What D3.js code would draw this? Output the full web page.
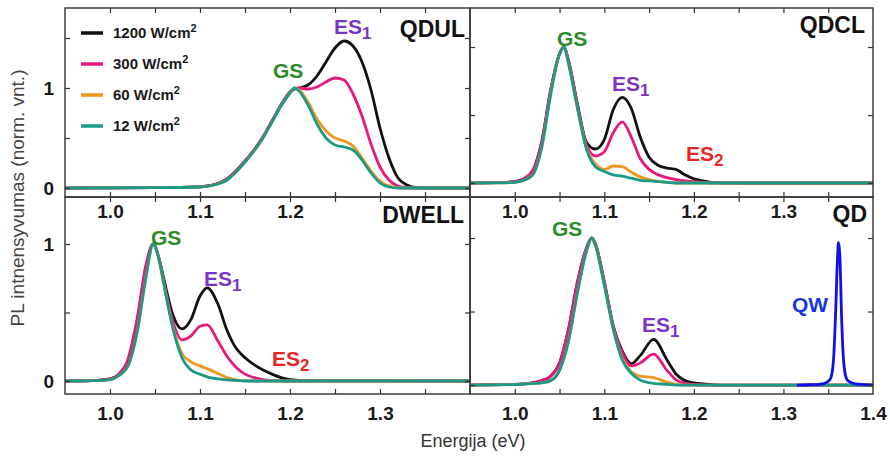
<!DOCTYPE html>
<html>
<head>
<meta charset="utf-8">
<script src="https://cdn.jsdelivr.net/npm/d3@7"></script>
<style>
  body { margin: 0; background: #fff; }
  svg text { font-family: "Liberation Sans", Arial, Helvetica, sans-serif; }
</style>
</head>
<body>
<svg id="chart" width="890" height="456"></svg>
<script>
// ---- Data: normalised PL spectra (energy in eV) ----
const seriesLabels = ["1200", "300", "60", "12"];   // excitation, W/cm²
const seriesColors = ["#111111", "#e8177d", "#f0961e", "#1b9a8a"];

// QDUL
const energyQDUL = [0.95, 1.05, 1.10, 1.12, 1.13, 1.14, 1.15, 1.16, 1.17, 1.18, 1.19, 1.20, 1.205, 1.21, 1.22, 1.23, 1.24, 1.25, 1.26, 1.27, 1.28, 1.29, 1.30, 1.31, 1.32, 1.33, 1.34, 1.36, 1.40];
const qdul1200 = [0, 0.004, 0.012, 0.045, 0.09, 0.17, 0.27, 0.38, 0.51, 0.67, 0.83, 0.96, 0.99, 1.0, 1.03, 1.12, 1.26, 1.4, 1.47, 1.42, 1.26, 0.98, 0.6, 0.3, 0.1, 0.03, 0.005, 0, 0];
const qdul300  = [0, 0.004, 0.012, 0.045, 0.09, 0.17, 0.27, 0.38, 0.51, 0.67, 0.83, 0.96, 0.99, 1.0, 0.99, 1.01, 1.06, 1.1, 1.08, 0.94, 0.72, 0.44, 0.21, 0.08, 0.02, 0.005, 0, 0, 0];
const qdul60   = [0, 0.003, 0.01, 0.04, 0.08, 0.16, 0.26, 0.37, 0.5, 0.66, 0.82, 0.95, 1.0, 0.98, 0.86, 0.69, 0.57, 0.5, 0.47, 0.42, 0.3, 0.17, 0.07, 0.02, 0.005, 0, 0, 0, 0];
const qdul12   = [0, 0.003, 0.01, 0.04, 0.08, 0.16, 0.26, 0.37, 0.5, 0.66, 0.82, 0.95, 1.0, 0.97, 0.83, 0.64, 0.5, 0.43, 0.41, 0.38, 0.28, 0.15, 0.05, 0.01, 0, 0, 0, 0, 0];

// QDCL
const energyQDCL = [0.95, 0.98, 1.00, 1.01, 1.02, 1.03, 1.04, 1.05, 1.055, 1.06, 1.07, 1.08, 1.09, 1.10, 1.11, 1.12, 1.13, 1.14, 1.15, 1.16, 1.17, 1.18, 1.19, 1.20, 1.21, 1.22, 1.25, 1.40];
const qdcl1200 = [0, 0.002, 0.01, 0.03, 0.09, 0.3, 0.68, 0.95, 1.0, 0.9, 0.58, 0.3, 0.25, 0.32, 0.54, 0.63, 0.55, 0.34, 0.19, 0.13, 0.11, 0.1, 0.06, 0.03, 0.015, 0.005, 0, 0];
const qdcl300  = [0, 0.002, 0.01, 0.03, 0.09, 0.3, 0.68, 0.95, 1.0, 0.9, 0.57, 0.28, 0.2, 0.23, 0.37, 0.45, 0.34, 0.18, 0.1, 0.06, 0.04, 0.025, 0.015, 0.01, 0.005, 0, 0, 0];
const qdcl60   = [0, 0.001, 0.005, 0.02, 0.06, 0.26, 0.65, 0.95, 1.0, 0.88, 0.55, 0.26, 0.14, 0.1, 0.125, 0.12, 0.08, 0.045, 0.025, 0.012, 0.005, 0, 0, 0, 0, 0, 0, 0];
const qdcl12   = [0, 0.001, 0.005, 0.02, 0.06, 0.26, 0.65, 0.95, 1.0, 0.88, 0.55, 0.25, 0.12, 0.085, 0.06, 0.05, 0.035, 0.02, 0.015, 0.01, 0.005, 0, 0, 0, 0, 0, 0, 0];

// DWELL
const energyDWELL = [0.95, 0.98, 1.00, 1.01, 1.02, 1.03, 1.04, 1.048, 1.055, 1.06, 1.07, 1.08, 1.09, 1.10, 1.108, 1.12, 1.13, 1.14, 1.15, 1.16, 1.17, 1.18, 1.19, 1.20, 1.22, 1.40];
const dwell1200 = [0, 0.003, 0.015, 0.05, 0.15, 0.43, 0.83, 1.0, 0.88, 0.74, 0.48, 0.38, 0.45, 0.62, 0.68, 0.56, 0.37, 0.24, 0.17, 0.12, 0.08, 0.05, 0.025, 0.01, 0.002, 0];
const dwell300  = [0, 0.003, 0.015, 0.05, 0.16, 0.45, 0.85, 1.0, 0.88, 0.72, 0.43, 0.3, 0.33, 0.4, 0.41, 0.29, 0.18, 0.1, 0.05, 0.025, 0.01, 0.003, 0, 0, 0, 0];
const dwell60   = [0, 0.002, 0.01, 0.04, 0.11, 0.35, 0.76, 1.0, 0.87, 0.7, 0.39, 0.2, 0.14, 0.11, 0.09, 0.055, 0.025, 0.008, 0.002, 0, 0, 0, 0, 0, 0, 0];
const dwell12   = [0, 0.002, 0.01, 0.04, 0.11, 0.35, 0.76, 1.0, 0.87, 0.7, 0.38, 0.17, 0.08, 0.05, 0.03, 0.015, 0.008, 0.004, 0, 0, 0, 0, 0, 0, 0, 0];

// QD
const energyQD = [0.95, 1.00, 1.02, 1.03, 1.04, 1.05, 1.06, 1.07, 1.08, 1.086, 1.09, 1.10, 1.11, 1.12, 1.13, 1.14, 1.155, 1.17, 1.18, 1.19, 1.20, 1.21, 1.23, 1.40];
const qd1200 = [0, 0.005, 0.015, 0.03, 0.06, 0.15, 0.38, 0.7, 0.93, 1.0, 0.96, 0.7, 0.4, 0.23, 0.145, 0.2, 0.31, 0.17, 0.075, 0.03, 0.015, 0.008, 0, 0];
const qd300  = [0, 0.005, 0.015, 0.03, 0.06, 0.15, 0.38, 0.7, 0.93, 1.0, 0.96, 0.7, 0.4, 0.22, 0.13, 0.15, 0.21, 0.1, 0.035, 0.012, 0.005, 0, 0, 0];
const qd60   = [0, 0.003, 0.01, 0.015, 0.03, 0.1, 0.3, 0.63, 0.91, 1.0, 0.95, 0.68, 0.38, 0.18, 0.09, 0.06, 0.05, 0.02, 0.005, 0, 0, 0, 0, 0];
const qd12   = [0, 0.003, 0.01, 0.015, 0.03, 0.1, 0.3, 0.63, 0.91, 1.0, 0.95, 0.68, 0.38, 0.17, 0.08, 0.035, 0.012, 0.005, 0, 0, 0, 0, 0, 0];

// Quantum-well line of the QD sample
const energyQW = [1.315, 1.33, 1.34, 1.345, 1.35, 1.353, 1.356, 1.358, 1.3605, 1.3615, 1.363, 1.365, 1.367, 1.37, 1.373, 1.38, 1.39, 1.40];
const intensityQW = [0, 0.002, 0.005, 0.01, 0.025, 0.05, 0.18, 0.45, 0.88, 0.97, 0.88, 0.45, 0.18, 0.05, 0.025, 0.008, 0.003, 0];

// Axis ticks
const energyTickMarks = [1.0, 1.05, 1.1, 1.15, 1.2, 1.25, 1.3, 1.35];
const intensityTickMarks = [0, 0.5, 1, 1.5];
const intensityTickLabels = [0, 1];
const xLabelsQDUL = [1.0, 1.1, 1.2];
const xLabelsQDCL = [1.0, 1.1, 1.2, 1.3];
const xLabelsDWELL = [1.0, 1.1, 1.2, 1.3];
const xLabelsQD = [1.0, 1.1, 1.2, 1.3, 1.4];

// ---- Layout ----
const cols = [[65, 470], [470, 873]];
const rows = [[8, 197], [197, 394]];
const energyDomain = [0.95, 1.4];

const panels = [
  { name: "QDUL", col: 0, row: 0, yDomain: [-0.09, 1.8], energy: energyQDUL,
    series: [qdul1200, qdul300, qdul60, qdul12], xLabels: xLabelsQDUL, yLabels: true,
    notes: [{ t: "GS", s: null, c: "#2b8a2b", x: 273, y: 78 },
            { t: "ES", s: "1", c: "#7a35c8", x: 334, y: 34 }],
    title: { x: 465, y: 37 } },
  { name: "QDCL", col: 1, row: 0, yDomain: [-0.103, 1.287], energy: energyQDCL,
    series: [qdcl1200, qdcl300, qdcl60, qdcl12], xLabels: xLabelsQDCL, yLabels: false,
    notes: [{ t: "GS", s: null, c: "#2b8a2b", x: 557, y: 46 },
            { t: "ES", s: "1", c: "#7a35c8", x: 612, y: 91 },
            { t: "ES", s: "2", c: "#e82424", x: 686, y: 161 }],
    title: { x: 865, y: 33 } },
  { name: "DWELL", col: 0, row: 1, yDomain: [-0.095, 1.343], energy: energyDWELL,
    series: [dwell1200, dwell300, dwell60, dwell12], xLabels: xLabelsDWELL, yLabels: true,
    notes: [{ t: "GS", s: null, c: "#2b8a2b", x: 151, y: 245 },
            { t: "ES", s: "1", c: "#7a35c8", x: 204, y: 286 },
            { t: "ES", s: "2", c: "#e82424", x: 272, y: 366 }],
    title: { x: 464, y: 223 } },
  { name: "QD", col: 1, row: 1, yDomain: [-0.061, 1.279], energy: energyQD,
    series: [qd1200, qd300, qd60, qd12], xLabels: xLabelsQD, yLabels: false,
    notes: [{ t: "GS", s: null, c: "#2b8a2b", x: 552, y: 236 },
            { t: "ES", s: "1", c: "#7a35c8", x: 642, y: 332 },
            { t: "QW", s: null, c: "#1a35e0", x: 792, y: 312 }],
    title: { x: 867, y: 222 } }
];

const svg = d3.select("#chart");
const frameColor = "#333";

panels.forEach((p, i) => {
  const [x0, x1] = cols[p.col];
  const [y0, y1] = rows[p.row];
  const x = d3.scaleLinear().domain(energyDomain).range([x0, x1]);
  const y = d3.scaleLinear().domain(p.yDomain).range([y1, y0]);
  const g = svg.append("g");

  g.append("clipPath").attr("id", "clip" + i)
    .append("rect").attr("x", x0).attr("y", y0).attr("width", x1 - x0).attr("height", y1 - y0);

  const line = d3.line().x(d => x(d[0])).y(d => y(d[1])).curve(d3.curveMonotoneX);
  const curves = g.append("g").attr("clip-path", `url(#clip${i})`);
  p.series.forEach((vals, k) => {
    curves.append("path")
      .datum(p.energy.map((e, j) => [e, vals[j]]))
      .attr("d", line)
      .attr("fill", "none")
      .attr("stroke", seriesColors[k])
      .attr("stroke-width", 2.8)
      .attr("stroke-linejoin", "round");
  });
  if (p.name === "QD") {
    curves.append("path")
      .datum(energyQW.map((e, j) => [e, intensityQW[j]]))
      .attr("d", line)
      .attr("fill", "none")
      .attr("stroke", "#1010e6")
      .attr("stroke-width", 2.8);
  }

  // inward tick marks on all four sides
  const tickStyle = sel => {
    sel.select(".domain").remove();
    sel.selectAll(".tick line").attr("stroke", frameColor).attr("stroke-width", 1.2);
    sel.selectAll(".tick text").remove();
  };
  g.append("g").attr("transform", `translate(0,${y1})`)
    .call(d3.axisBottom(x).tickValues(energyTickMarks).tickSize(-5)).call(tickStyle);
  g.append("g").attr("transform", `translate(0,${y0})`)
    .call(d3.axisTop(x).tickValues(energyTickMarks).tickSize(-5)).call(tickStyle);
  const yTicks = intensityTickMarks.filter(v => v > p.yDomain[0] && v < p.yDomain[1]);
  g.append("g").attr("transform", `translate(${x0},0)`)
    .call(d3.axisLeft(y).tickValues(yTicks).tickSize(-5)).call(tickStyle);
  g.append("g").attr("transform", `translate(${x1},0)`)
    .call(d3.axisRight(y).tickValues(yTicks).tickSize(-5)).call(tickStyle);

  // frame
  g.append("rect").attr("x", x0).attr("y", y0).attr("width", x1 - x0).attr("height", y1 - y0)
    .attr("fill", "none").attr("stroke", frameColor).attr("stroke-width", 1.4);

  // energy tick labels below each panel
  const labelAxis = g.append("g").attr("transform", `translate(0,${y1})`)
    .call(d3.axisBottom(x).tickValues(p.xLabels).tickSize(0)
      .tickPadding(p.row === 0 ? 8 : 13).tickFormat(d3.format(".1f")));
  labelAxis.select(".domain").remove();
  labelAxis.selectAll("text").attr("font-size", 19).attr("font-weight", "bold")
    .attr("fill", "#1a1a1a").attr("font-family", null);

  if (p.yLabels) {
    const ya = g.append("g").attr("transform", `translate(${x0},0)`)
      .call(d3.axisLeft(y).tickValues(intensityTickLabels).tickSize(0).tickPadding(11).tickFormat(d3.format("d")));
    ya.select(".domain").remove();
    ya.selectAll("text").attr("font-size", 19).attr("font-weight", "bold")
      .attr("fill", "#1a1a1a").attr("font-family", null);
  }

  // peak annotations
  p.notes.forEach(n => {
    const t = g.append("text").attr("x", n.x).attr("y", n.y)
      .attr("font-size", 21).attr("font-weight", "bold").attr("fill", n.c).text(n.t);
    if (n.s) t.append("tspan").attr("dy", 5).attr("font-size", 17).text(n.s);
  });

  // sample name
  g.append("text").attr("x", p.title.x).attr("y", p.title.y)
    .attr("text-anchor", "end").attr("font-size", 23).attr("font-weight", "bold")
    .attr("fill", "#111").text(p.name);
});

// legend (inside the QDUL panel)
const legend = svg.append("g");
seriesLabels.forEach((lab, k) => {
  const ly = 33 + k * 31;
  legend.append("line").attr("x1", 81).attr("x2", 103).attr("y1", ly).attr("y2", ly)
    .attr("stroke", seriesColors[k]).attr("stroke-width", 3.5);
  const t = legend.append("text").attr("x", 113).attr("y", ly + 5)
    .attr("font-size", 15).attr("font-weight", "bold").attr("fill", "#1a1a1a")
    .text(lab + " W/cm");
  t.append("tspan").attr("dy", -6).attr("font-size", 11).text("2");
});

// axis titles
svg.append("text").attr("x", 473).attr("y", 447).attr("text-anchor", "middle")
  .attr("font-size", 18).attr("fill", "#333").text("Energija (eV)");
svg.append("text").attr("transform", "translate(24,198) rotate(-90)").attr("text-anchor", "middle")
  .attr("font-size", 19).attr("fill", "#444").text("PL intnensyvumas (norm. vnt.)");
</script>
</body>
</html>
